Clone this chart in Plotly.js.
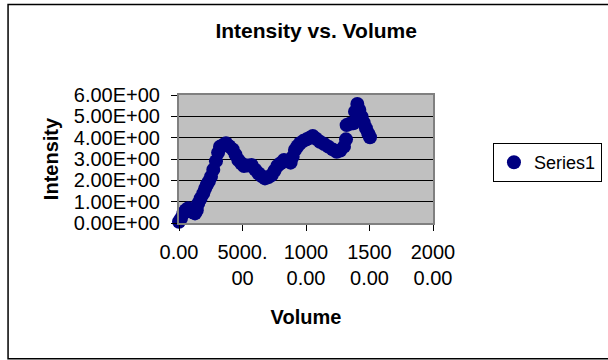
<!DOCTYPE html>
<html>
<head>
<meta charset="utf-8">
<script src="https://cdn.plot.ly/plotly-3.0.1.min.js"></script>
<style>html,body{margin:0;padding:0;background:#fff;}#chart{width:608px;height:360px;}</style>
</head>
<body>
<div id="chart"></div>
<script>
var volume = [0, 150, 340, 530, 730, 900, 1100, 1260, 1400, 1520, 1700, 1910, 2050, 2180, 2350, 2520, 2700, 2910, 3080, 3230, 3450, 3700, 3950, 4230, 4450, 4670, 4900, 5120, 5420, 5720, 6000, 6250, 6500, 6770, 7050, 7300, 7520, 7740, 8000, 8270, 8530, 8790, 8950, 9130, 9330, 9530, 9800, 10050, 10300, 10530, 10800, 11100, 11430, 11760, 12100, 12420, 12700, 12990, 13150, 13200, 13450, 13730, 13860, 14040, 14200, 14380, 14550, 14720, 14900, 15040];
var intensity = [0.06, 0.2, 0.45, 0.6, 0.69, 0.55, 0.5, 0.45, 0.6, 0.92, 1.15, 1.39, 1.6, 1.78, 1.95, 2.17, 2.5, 2.9, 3.3, 3.58, 3.65, 3.74, 3.6, 3.45, 3.2, 2.95, 2.8, 2.67, 2.7, 2.72, 2.5, 2.33, 2.2, 2.09, 2.15, 2.25, 2.45, 2.67, 2.8, 2.95, 2.9, 2.83, 3.1, 3.42, 3.6, 3.74, 3.85, 3.92, 4.0, 4.08, 3.95, 3.81, 3.7, 3.58, 3.45, 3.34, 3.4, 3.58, 3.92, 4.59, 4.65, 4.67, 5.22, 5.58, 5.3, 4.98, 4.7, 4.44, 4.2, 4.02];
var xTickVals = [0, 5000, 10000, 15000, 20000];
var xTickText = ["0.00", "5000.<br>00", "1000<br>0.00", "1500<br>0.00", "2000<br>0.00"];
var yTickVals = [0, 1, 2, 3, 4, 5, 6];
var yTickText = ["0.00E+00", "1.00E+00", "2.00E+00", "3.00E+00", "4.00E+00", "5.00E+00", "6.00E+00"];
var seriesName = "Series1";

var font = "Liberation Sans, Arial, sans-serif";
var trace = {
  x: volume, y: intensity, type: "scatter", mode: "markers", name: seriesName, cliponaxis: false,
  marker: {color: "#000080", size: 14, line: {width: 0}}
};
var layout = {
  width: 608, height: 360,
  margin: {l: 179, r: 175, t: 95, b: 137, autoexpand: false},
  paper_bgcolor: "#ffffff", plot_bgcolor: "#C0C0C0",
  font: {family: font, size: 20, color: "#000"},
  showlegend: true,
  title: {text: "<b>Intensity vs. Volume</b>", font: {family: font, size: 21, color: "#000"},
          xref: "container", yref: "container", x: 0.52, y: 0.915, xanchor: "center", yanchor: "middle"},
  xaxis: {
    range: [0, 20000], tickvals: xTickVals, ticktext: xTickText, ticks: "outside", ticklen: 6,
    tickcolor: "#000", tickwidth: 1, showgrid: false, zeroline: false, ticklabelstandoff: 4,
    showline: true, mirror: true, linecolor: "#808080", linewidth: 2,
    tickfont: {family: font, size: 20}, fixedrange: true,
    title: {text: "<b>Volume</b>", font: {family: font, size: 20}, standoff: 22}
  },
  yaxis: {
    range: [0, 6], tickvals: yTickVals, ticktext: yTickText, ticks: "outside", ticklen: 6,
    tickcolor: "#000", tickwidth: 1, showgrid: true, gridcolor: "#000", gridwidth: 1, zeroline: false,
    ticklabelstandoff: 7,
    showline: true, mirror: true, linecolor: "#808080", linewidth: 2,
    tickfont: {family: font, size: 20}, fixedrange: true,
    title: {text: "<b>Intensity</b>", font: {family: font, size: 20}, standoff: 10}
  },
  legend: {x: 1.236, y: 0.625, xanchor: "left", yanchor: "top", bordercolor: "#000", borderwidth: 1,
           bgcolor: "#fff", font: {family: font, size: 18}},
  shapes: [{type: "rect", xref: "paper", yref: "paper", x0: -0.673, x1: 1.75, y0: -1.06, y1: 1.707,
            line: {color: "#000", width: 1.5}, fillcolor: "rgba(0,0,0,0)", layer: "below"}]
};
Plotly.newPlot("chart", [trace], layout, {staticPlot: true});
</script>
</body>
</html>
